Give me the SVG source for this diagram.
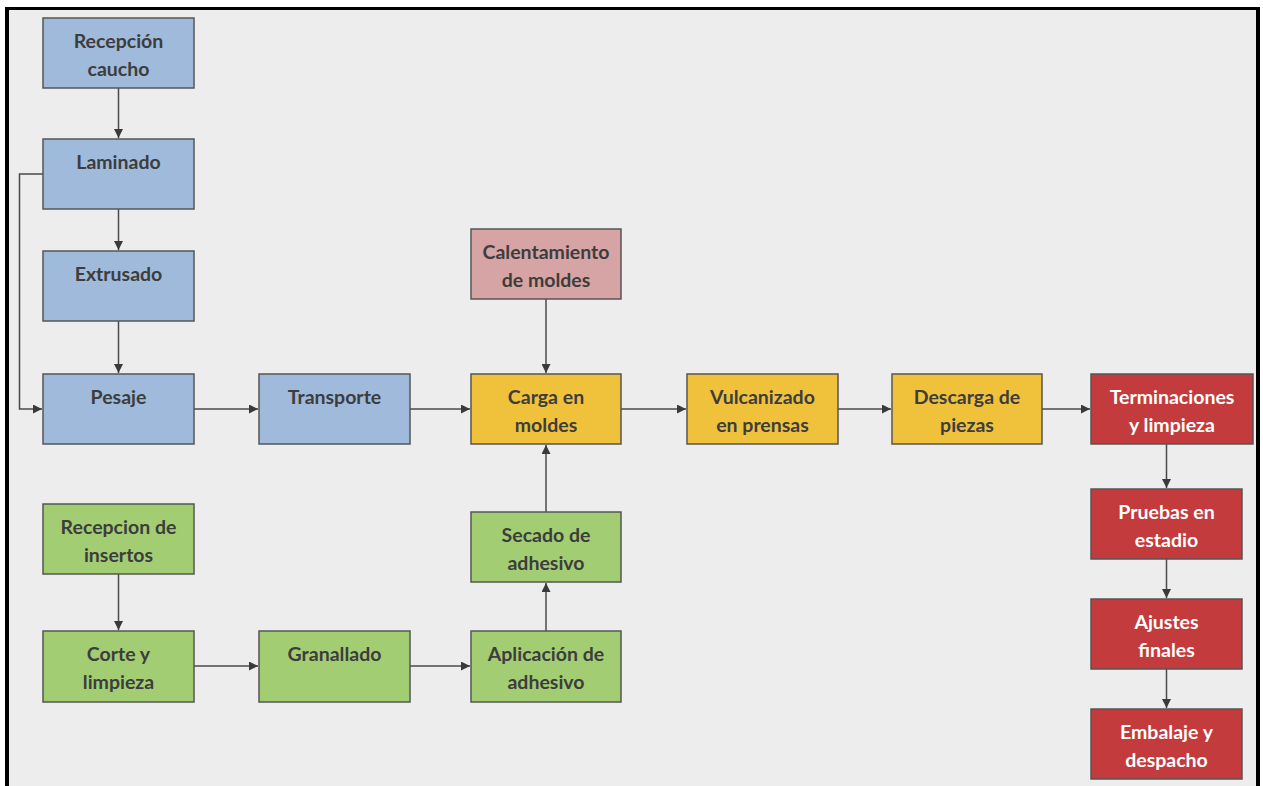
<svg xmlns="http://www.w3.org/2000/svg" width="1263" height="786" viewBox="0 0 1263 786">
<defs>
<style>
.n rect{stroke:#555;stroke-width:1.5}
.blue rect{fill:#9fbadb}
.yel rect{fill:#f0c23c}
.pink rect{fill:#d6a4a4}
.green rect{fill:#a2cd72}
.red rect{fill:#c43b3d}
.n text{font-family:Lato,"Open Sans","Liberation Sans",sans-serif;font-weight:bold;font-size:19.5px;text-anchor:middle;fill:#3d3d3d}
.red text{fill:#ffffff}
#connectors path{fill:none;stroke:#4a4a4a;stroke-width:1.5;marker-end:url(#ah)}
</style>
<marker id="ah" viewBox="0 0 10 10" refX="10" refY="5" markerWidth="9" markerHeight="9" orient="auto" markerUnits="userSpaceOnUse">
<path d="M0,0 L10,5 L0,10 Z" fill="#3a3a3a"/>
</marker>
</defs>
<rect x="0" y="0" width="1263" height="786" fill="#ffffff"/>
<rect x="9" y="10" width="1247" height="776" fill="#ededed"/>
<rect x="5" y="7" width="4" height="779" fill="#000"/>
<rect x="5" y="7" width="1255" height="3" fill="#000"/>
<rect x="1256" y="7" width="4" height="779" fill="#000"/>

<g id="connectors">
<path d="M118.5,88 V138"/>
<path d="M118.5,209 V250"/>
<path d="M118.5,321 V373"/>
<path d="M43,174 H19.5 V409 H42"/>
<path d="M194,409 H258"/>
<path d="M410,409 H470"/>
<path d="M546,299 V373"/>
<path d="M621,409 H686"/>
<path d="M838,409 H891"/>
<path d="M1042,409 H1090"/>
<path d="M1166.5,444 V488"/>
<path d="M1166.5,559 V598"/>
<path d="M1166.5,669 V708"/>
<path d="M118.5,574 V630"/>
<path d="M194,666 H258"/>
<path d="M410,666 H470"/>
<path d="M546,631 V583"/>
<path d="M546,512 V445"/>
</g>

<g id="recepcion-caucho" class="n blue"><rect x="43" y="18" width="151" height="70"/><text x="118.5" y="48">Recepción</text><text x="118.5" y="76">caucho</text></g>
<g id="laminado" class="n blue"><rect x="43" y="139" width="151" height="70"/><text x="118.5" y="169">Laminado</text></g>
<g id="extrusado" class="n blue"><rect x="43" y="251" width="151" height="70"/><text x="118.5" y="281">Extrusado</text></g>
<g id="pesaje" class="n blue"><rect x="43" y="374" width="151" height="70"/><text x="118.5" y="404">Pesaje</text></g>
<g id="transporte" class="n blue"><rect x="259" y="374" width="151" height="70"/><text x="334.5" y="404">Transporte</text></g>
<g id="calentamiento" class="n pink"><rect x="471" y="229" width="150" height="70"/><text x="546" y="259">Calentamiento</text><text x="546" y="287">de moldes</text></g>
<g id="carga" class="n yel"><rect x="471" y="374" width="150" height="70"/><text x="546" y="404">Carga en</text><text x="546" y="432">moldes</text></g>
<g id="vulcanizado" class="n yel"><rect x="687" y="374" width="151" height="70"/><text x="762.5" y="404">Vulcanizado</text><text x="762.5" y="432">en prensas</text></g>
<g id="descarga" class="n yel"><rect x="892" y="374" width="150" height="70"/><text x="967" y="404">Descarga de</text><text x="967" y="432">piezas</text></g>
<g id="terminaciones" class="n red"><rect x="1091" y="374" width="162" height="70"/><text x="1172" y="404">Terminaciones</text><text x="1172" y="432">y limpieza</text></g>
<g id="pruebas" class="n red"><rect x="1091" y="489" width="151" height="70"/><text x="1166.5" y="519">Pruebas en</text><text x="1166.5" y="547">estadio</text></g>
<g id="ajustes" class="n red"><rect x="1091" y="599" width="151" height="70"/><text x="1166.5" y="629">Ajustes</text><text x="1166.5" y="657">finales</text></g>
<g id="embalaje" class="n red"><rect x="1091" y="709" width="151" height="70"/><text x="1166.5" y="739">Embalaje y</text><text x="1166.5" y="767">despacho</text></g>
<g id="recepcion-insertos" class="n green"><rect x="43" y="504" width="151" height="70"/><text x="118.5" y="534">Recepcion de</text><text x="118.5" y="562">insertos</text></g>
<g id="corte" class="n green"><rect x="43" y="631" width="151" height="71"/><text x="118.5" y="661">Corte y</text><text x="118.5" y="689">limpieza</text></g>
<g id="granallado" class="n green"><rect x="259" y="631" width="151" height="71"/><text x="334.5" y="661">Granallado</text></g>
<g id="aplicacion" class="n green"><rect x="471" y="631" width="150" height="71"/><text x="546" y="661">Aplicación de</text><text x="546" y="689">adhesivo</text></g>
<g id="secado" class="n green"><rect x="471" y="512" width="150" height="70"/><text x="546" y="542">Secado de</text><text x="546" y="570">adhesivo</text></g>
</svg>
